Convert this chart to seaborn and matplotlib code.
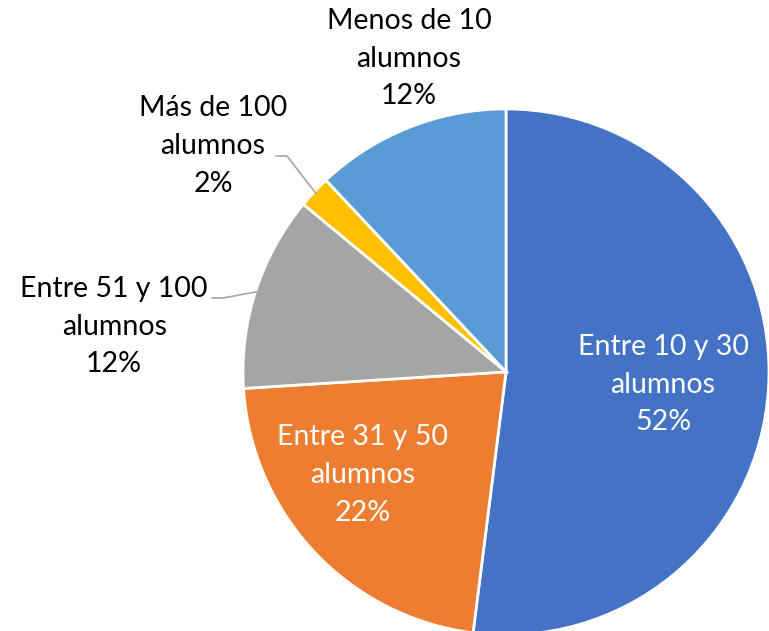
import matplotlib

matplotlib.use("Agg")
import matplotlib.pyplot as plt
import numpy as np
import seaborn as sns

categories = [
    "Entre 10 y 30\nalumnos",
    "Entre 31 y 50\nalumnos",
    "Entre 51 y 100\nalumnos",
    "Más de 100\nalumnos",
    "Menos de 10\nalumnos",
]
values = [52, 22, 12, 2, 12]
colors = ["#4472C4", "#ED7D31", "#A5A5A5", "#FFC000", "#5B9BD5"]

# label placement (data units, pie radius = 1)
label_pos = [(0.597, -0.049), (-0.544, -0.392), (-1.49, 0.171), (-1.114, 0.859), (-0.369, 1.19)]
label_color = ["white", "white", "black", "black", "black"]
# leader line start points (only for outside labels)
leader_start = [None, None, (-1.118, 0.281), (-0.875, 0.821), None]

sns.set_theme(style="white")
plt.rcParams["font.family"] = ["Lato", "DejaVu Sans"]

fig = plt.figure(figsize=(7.69, 6.31), dpi=100)
ax = fig.add_axes([0, 0, 1, 1])
ax.pie(values, colors=colors, startangle=90, counterclock=False,
       wedgeprops=dict(edgecolor="white", linewidth=2))
ax.set_xlim(-1.924, 1.0)
ax.set_ylim(-0.985, 1.414)
ax.set_aspect("equal")
ax.axis("off")

total = sum(values)
cum = np.cumsum([0] + values)
for i, (cat, v) in enumerate(zip(categories, values)):
    pct = round(100 * v / total)
    x, y = label_pos[i]
    ax.text(x, y, f"{cat}\n{pct}%", ha="center", va="center", fontsize=20.5,
            color=label_color[i], linespacing=1.55)
    if leader_start[i] is not None:
        mid = np.deg2rad(90 - 360 * (cum[i] + v / 2) / total)
        ex, ey = 0.99 * np.cos(mid), 0.99 * np.sin(mid)
        sx, sy = leader_start[i]
        ax.plot([sx, sx + 0.042, ex], [sy, sy, ey], color="#A6A6A6", lw=1.2)

fig.savefig("out.png", dpi=100)
